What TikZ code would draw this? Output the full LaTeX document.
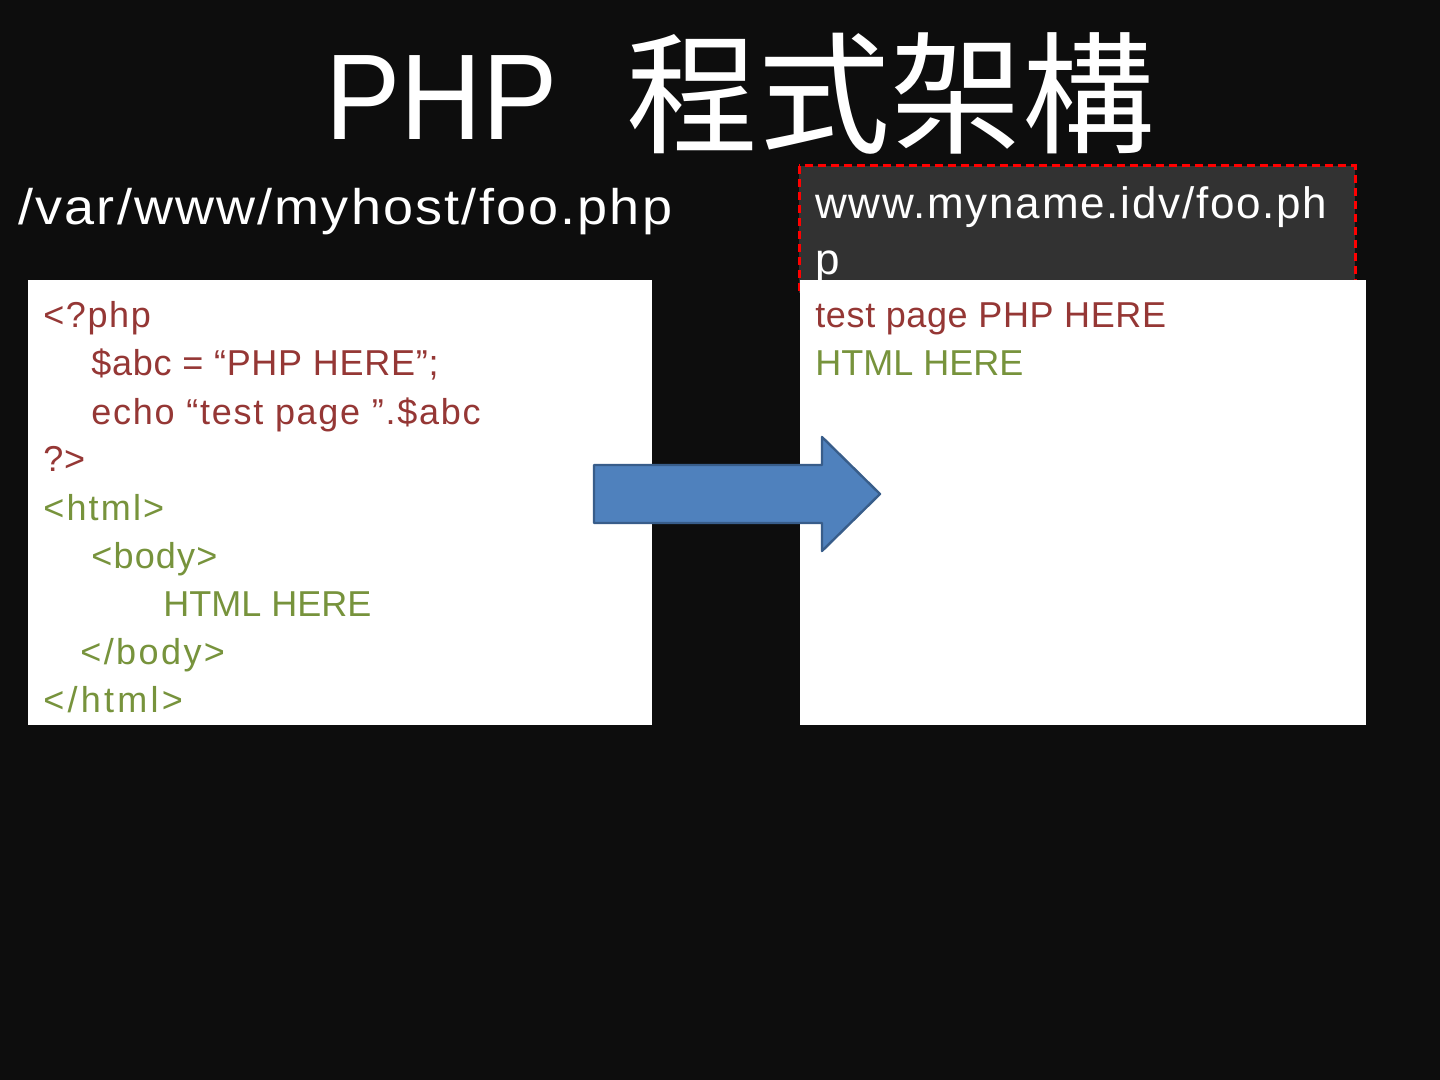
\documentclass[tikz,border=0pt]{standalone}
\usepackage{fontspec}
\setmainfont{Liberation Sans}
\newfontfamily\cjkfont{Noto Sans CJK TC}
\definecolor{bg}{HTML}{0D0D0D}
\definecolor{codered}{HTML}{953735}
\definecolor{codegreen}{HTML}{77933C}
\definecolor{urlgray}{HTML}{323232}
\definecolor{arrowfill}{HTML}{4F81BD}
\definecolor{arrowline}{HTML}{385D8A}
\definecolor{dashred}{HTML}{FF0000}
\tikzset{
  page/.style={fill=white, draw=none},
  redtxt/.style={anchor=base west, inner sep=0pt, text=codered, font=\fontsize{18}{24}\selectfont\addfontfeature{LetterSpace=#1}},
  redtxt/.default=0,
  greentxt/.style={anchor=base west, inner sep=0pt, text=codegreen, font=\fontsize{18}{24}\selectfont\addfontfeature{LetterSpace=#1}},
  greentxt/.default=0,
  whitetxt/.style={anchor=base west, inner sep=0pt, text=white},
}
\begin{document}
\begin{tikzpicture}[x=0.5pt,y=-0.5pt]
\fill[bg] (0,0) rectangle (1440,1080);
\useasboundingbox (0,0) rectangle (1440,1080);
% title
\node[whitetxt, font=\fontsize{61}{64}\selectfont] (t1) at (325,140) {\scalebox{0.925}[1]{PHP}};
\node[whitetxt, font=\cjkfont\fontsize{66}{70}\selectfont] (t2) at (626,144) {程式架構};
% path label
\node[whitetxt, font=\fontsize{25}{30}\selectfont\addfontfeature{LetterSpace=4}] (path) at (18,225) {\scalebox{1.08}[1]{/var/www/myhost/foo.php}};
% url box
\draw[dashred, fill=urlgray, line width=1.5pt, dash pattern=on 4pt off 2.5pt] (799,166) rectangle (1355,293);
\node[whitetxt, font=\fontsize{22}{24}\selectfont\addfontfeature{LetterSpace=4}] (url1) at (815,219) {www.myname.idv/foo.ph};
\node[whitetxt, font=\fontsize{22}{24}\selectfont] (url2) at (815,275) {p};
% pages
\fill[page] (28,280) rectangle (652,725);
\fill[page] (800,280) rectangle (1366,725);
% code lines
\node[redtxt=4.4] (c1) at (43,328) {<?php};
\node[redtxt=2] (c2) at (91,376) {\$abc = “PHP HERE”;};
\node[redtxt=4.8] (c3) at (91,424) {echo “test page ”.\$abc};
\node[redtxt=2] (c4) at (43,472) {?>};
\node[greentxt=6] (c5) at (43,520) {<html>};
\node[greentxt=3.3] (c6) at (91,568) {<body>};
\node[greentxt] (c7) at (163,616) {HTML HERE};
\node[greentxt=6.7] (c8) at (80,664) {</body>};
\node[greentxt=9] (c9) at (43,712) {</html>};
% output
\node[redtxt=1.7] (o1) at (815,328) {test page PHP HERE};
\node[greentxt] (o2) at (815,376) {HTML HERE};
% arrow
\draw[fill=arrowfill, draw=arrowline, line width=1.2pt, line join=round]
  (594,465) -- (822,465) -- (822,437) -- (880,494) -- (822,551) -- (822,523) -- (594,523) -- cycle;
\end{tikzpicture}
\end{document}
